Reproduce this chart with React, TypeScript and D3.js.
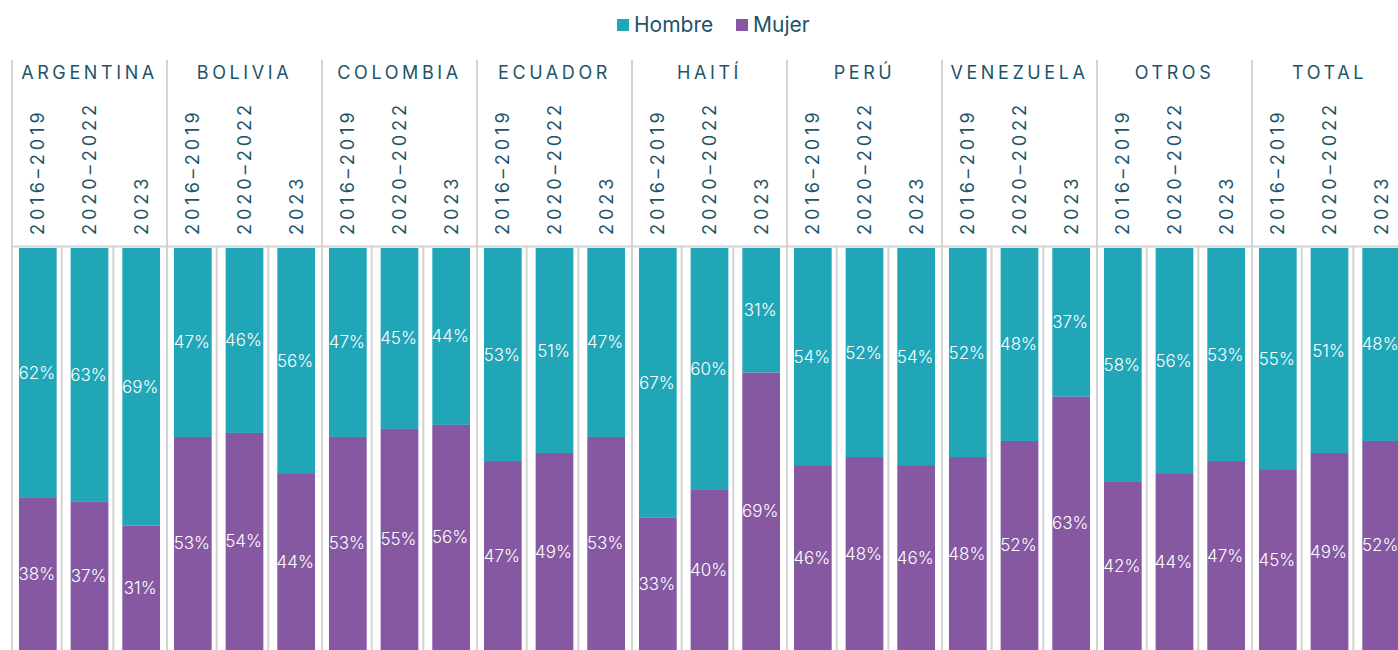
import React, { useEffect, useRef } from "react";
import * as d3 from "d3";

const countries = ["ARGENTINA", "BOLIVIA", "COLOMBIA", "ECUADOR", "HAITÍ", "PERÚ", "VENEZUELA", "OTROS", "TOTAL"];
const periods = ["2016–2019", "2020–2022", "2023"];
const series = ["Hombre", "Mujer"];

// percentages per country, one value per period
const hombre = [
  [62, 63, 69],
  [47, 46, 56],
  [47, 45, 44],
  [53, 51, 47],
  [67, 60, 31],
  [54, 52, 54],
  [52, 48, 37],
  [58, 56, 53],
  [55, 51, 48],
];
const mujer = [
  [38, 37, 31],
  [53, 54, 44],
  [53, 55, 56],
  [47, 49, 53],
  [33, 40, 69],
  [46, 48, 46],
  [48, 52, 63],
  [42, 44, 47],
  [45, 49, 52],
];

const TEAL = "#21a6b8";
const PURPLE = "#8558a1";
const INK = "#1d5468";
const GRID = "#d3d3d3";

export default function App() {
  const svgRef = useRef<SVGSVGElement>(null);
  const width = 1398;
  const height = 650;

  useEffect(() => {
    const svg = d3.select(svgRef.current);
    svg.selectAll("*").remove();

    const left = 12;
    const groupW = 155;
    const headTop = 60;
    const plotTop = 248;
    const plotBottom = 650;

    const xGroup = d3.scaleBand<string>()
      .domain(countries)
      .range([left, left + groupW * countries.length]);
    const xCol = d3.scaleBand<string>()
      .domain(periods)
      .range([0, groupW])
      .paddingInner(0.27)
      .paddingOuter(0.135);
    const y = d3.scaleLinear().domain([0, 100]).range([plotTop, plotBottom]);

    const font = "Inter, 'Noto Sans', sans-serif";

    // legend
    const legend = svg.append("g").attr("font-family", font);
    const items = [
      { name: series[0], color: TEAL, x: 617 },
      { name: series[1], color: PURPLE, x: 736 },
    ];
    items.forEach(it => {
      legend.append("rect").attr("x", it.x).attr("y", 19).attr("width", 12).attr("height", 12).attr("fill", it.color);
      legend.append("text").attr("x", it.x + 17).attr("y", 31.5)
        .attr("font-size", 21).attr("fill", INK).text(it.name);
    });

    // horizontal rule under header
    svg.append("line")
      .attr("x1", left).attr("x2", width)
      .attr("y1", plotTop - 1.5).attr("y2", plotTop - 1.5)
      .attr("stroke", GRID).attr("stroke-width", 2);

    countries.forEach((c, gi) => {
      const gx = xGroup(c)!;
      const g = svg.append("g").attr("transform", `translate(${gx},0)`);

      // group border
      g.append("line").attr("x1", 0).attr("x2", 0).attr("y1", headTop).attr("y2", plotBottom)
        .attr("stroke", GRID).attr("stroke-width", 2);

      g.append("text")
        .attr("x", groupW / 2).attr("y", 79)
        .attr("text-anchor", "middle")
        .attr("font-family", font).attr("font-size", 18)
        .attr("letter-spacing", 3.6)
        .attr("fill", INK)
        .text(c);

      periods.forEach((p, pi) => {
        const bx = xCol(p)!;
        const bw = xCol.bandwidth();
        const cx = bx + bw / 2;
        const h = hombre[gi][pi];
        const m = mujer[gi][pi];

        if (pi > 0) {
          const lx = (xCol.step() * pi) - 2;
          g.append("line").attr("x1", lx).attr("x2", lx).attr("y1", plotTop - 1).attr("y2", plotBottom)
            .attr("stroke", GRID).attr("stroke-width", 2);
        }

        g.append("text")
          .attr("transform", `translate(${cx + 6.5},235) rotate(-90)`)
          .attr("font-family", font).attr("font-size", 18)
          .attr("letter-spacing", 4)
          .attr("fill", INK)
          .text(p);

        g.append("rect")
          .attr("x", bx).attr("width", bw)
          .attr("y", y(0)).attr("height", y(h) - y(0))
          .attr("fill", TEAL);
        g.append("rect")
          .attr("x", bx).attr("width", bw)
          .attr("y", y(h)).attr("height", y(h + m) - y(h))
          .attr("fill", PURPLE);

        [
          { v: h, mid: (0 + h) / 2 },
          { v: m, mid: h + m / 2 },
        ].forEach(s => {
          g.append("text")
            .attr("x", cx - 1).attr("y", y(s.mid) + 6)
            .attr("text-anchor", "middle")
            .attr("font-family", font).attr("font-size", 17).attr("font-weight", 300)
            .attr("fill", "#ffffff")
            .text(`${s.v}%`);
        });
      });
    });
  }, []);

  return (
    <div style={{ position: "absolute", left: 0, top: 0, width, height, overflow: "hidden", background: "#fff" }}>
      <svg ref={svgRef} width={width} height={height} style={{ display: "block" }}></svg>
    </div>
  );
}
